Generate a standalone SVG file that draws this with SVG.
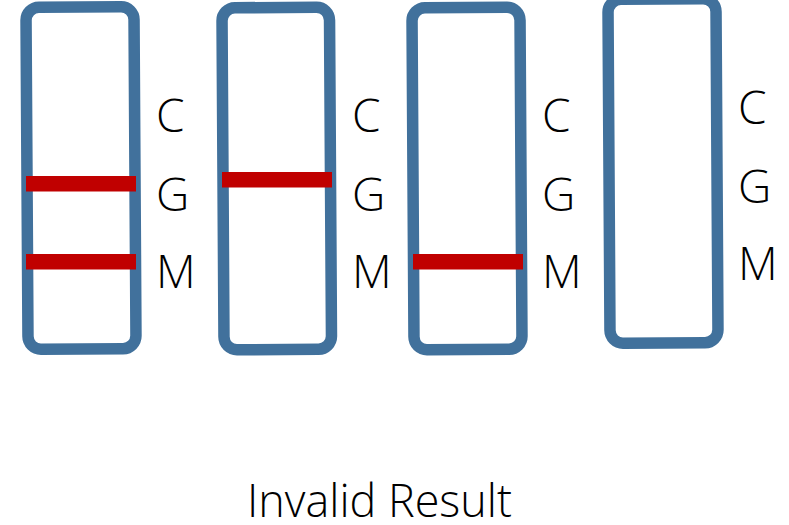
<svg xmlns="http://www.w3.org/2000/svg" width="789" height="525" viewBox="0 0 789 525">
<style>
.strip{fill:none;stroke:#41719C;stroke-width:11.5;stroke-linejoin:round}
.band{fill:#C00000}
.lbl{font-family:"Open Sans","Noto Sans","Liberation Sans",sans-serif;font-size:46px;font-weight:300;fill:#000}
.title{font-family:"Open Sans","Noto Sans","Liberation Sans",sans-serif;font-size:46px;font-weight:300;fill:#000}
</style>
<rect width="789" height="525" fill="#fff"/>
<g id="strip1">
<rect class="strip" x="27" y="7" width="108" height="342" rx="13" transform="rotate(-0.35 81 178)"/>
<rect class="band" x="26" y="176" width="110" height="15.5"/>
<rect class="band" x="26" y="254" width="110" height="15.5"/>
<text class="lbl" x="156" y="132">C</text>
<text class="lbl" x="156" y="211">G</text>
<text class="lbl" x="156" y="288">M</text>
</g>
<g id="strip2">
<rect class="strip" x="223" y="7.5" width="107.5" height="342" rx="13" transform="rotate(-0.35 277 178)"/>
<rect class="band" x="222" y="172" width="110" height="15.5"/>
<text class="lbl" x="352" y="132">C</text>
<text class="lbl" x="352" y="211">G</text>
<text class="lbl" x="352" y="288">M</text>
</g>
<g id="strip3">
<rect class="strip" x="413" y="7.5" width="108" height="342" rx="13" transform="rotate(-0.35 467 178)"/>
<rect class="band" x="413" y="254" width="110" height="15.5"/>
<text class="lbl" x="542" y="132">C</text>
<text class="lbl" x="542" y="211">G</text>
<text class="lbl" x="542" y="288">M</text>
</g>
<g id="strip4">
<rect class="strip" x="609" y="-1" width="108" height="344" rx="13" transform="rotate(-0.35 663 171)"/>
<text class="lbl" x="738" y="124">C</text>
<text class="lbl" x="738" y="203">G</text>
<text class="lbl" x="738" y="280">M</text>
</g>
<g id="connectors"></g>
<text class="title" x="247" y="517" textLength="265" lengthAdjust="spacingAndGlyphs">Invalid Result</text>
</svg>
